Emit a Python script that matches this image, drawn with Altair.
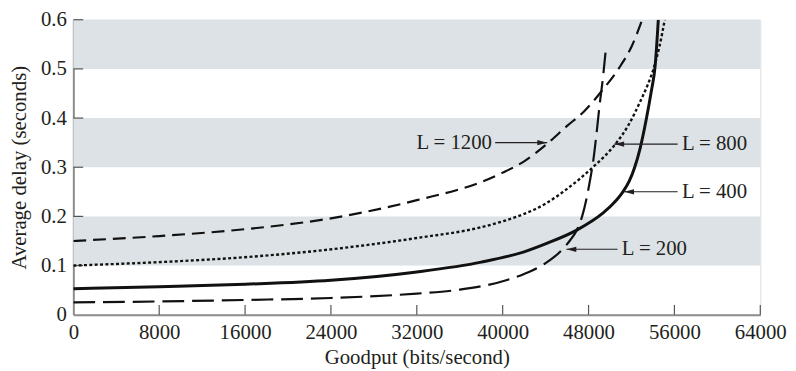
import altair as alt
import pandas as pd

FONT = "Liberation Serif"
FS = 21
INK = "#231f20"
AXIS_GRAY = "#8c8c8c"
BAND = "#dce2e5"

x_ticks = [0, 8000, 16000, 24000, 32000, 40000, 48000, 56000, 64000]
y_ticks = [0, 0.1, 0.2, 0.3, 0.4, 0.5, 0.6]
band_lo = [0.1, 0.3, 0.5]
band_hi = [0.2, 0.4, 0.6]

l200_x = [0, 8000, 16000, 24000, 32000, 36000, 40000, 42000, 44000, 45300, 46300,
          46900, 47400, 47800, 48150, 48450, 48750, 49050, 49330, 49580]
l200_y = [0.025, 0.027, 0.030, 0.034, 0.043, 0.051, 0.068, 0.083, 0.105, 0.127, 0.152,
          0.172, 0.200, 0.235, 0.275, 0.315, 0.370, 0.430, 0.480, 0.533]

l400_x = [0, 8000, 16000, 24000, 32000, 38000, 42000, 44100, 46900, 49300,
          50300, 51200, 51800, 52300, 52800, 53400, 53850, 54200, 54500]
l400_y = [0.053, 0.057, 0.062, 0.070, 0.087, 0.107, 0.128, 0.145, 0.172, 0.206,
          0.226, 0.250, 0.272, 0.300, 0.338, 0.400, 0.455, 0.505, 0.600]

l800_x = [0, 8000, 16000, 24000, 32000, 38000, 40000, 42000, 44000, 46000, 48400,
          50500, 51700, 52800, 53500, 54050, 54600, 55100]
l800_y = [0.100, 0.107, 0.117, 0.133, 0.156, 0.178, 0.190, 0.205, 0.226, 0.256, 0.300,
          0.347, 0.385, 0.433, 0.467, 0.500, 0.545, 0.600]

l1200_x = [0, 8000, 16000, 24000, 32000, 38000, 40000, 42000, 44100, 46000, 47600,
           49300, 51000, 52000, 53000]
l1200_y = [0.150, 0.160, 0.174, 0.196, 0.233, 0.270, 0.289, 0.312, 0.347, 0.384, 0.414,
           0.457, 0.507, 0.545, 0.600]

labels = ["L = 1200", "L = 800", "L = 400", "L = 200"]
label_x = [39000, 56700, 56700, 51100]
label_y = [0.350, 0.347, 0.250, 0.133]
label_align = ["right", "left", "left", "left"]
arrow_tip_x = [44150, 50390, 51310, 45940]
arrow_tail_x = [39300, 56300, 56300, 50700]
arrow_dir = ["right", "left", "left", "left"]

xs = alt.Scale(domain=[0, 64000], nice=False, zero=False)
ys = alt.Scale(domain=[0, 0.6], nice=False, zero=False)

x_axis = alt.Axis(values=x_ticks, format="d", ticks=False, grid=False,
                  domainColor=AXIS_GRAY, domainWidth=2, labelFont=FONT,
                  labelFontSize=FS, labelColor=INK, labelPadding=7,
                  labelFlush=False, title="Goodput (bits/second)",
                  titleFont=FONT, titleFontSize=FS, titleFontWeight="normal",
                  titleColor=INK, titlePadding=4)
y_axis = alt.Axis(values=y_ticks, ticks=False, grid=False,
                  labelExpr="datum.value == 0 ? '0' : format(datum.value, '.1f')",
                  domainColor=AXIS_GRAY, domainWidth=2, labelFont=FONT,
                  labelFontSize=FS, labelColor=INK, labelPadding=7,
                  labelFlush=False, title="Average delay (seconds)",
                  titleFont=FONT, titleFontSize=FS, titleFontWeight="normal",
                  titleColor=INK, titlePadding=11)


def X(f="x"):
    return alt.X(f, type="quantitative", scale=xs, axis=x_axis)


def Y(f="y"):
    return alt.Y(f, type="quantitative", scale=ys, axis=y_axis)


bands = alt.Chart(pd.DataFrame({"x": [0] * 3, "x2": [64000] * 3,
                                "y": band_lo, "y2": band_hi})).mark_rect(
    color=BAND).encode(x=X(), x2="x2", y=Y(), y2="y2")

xt = pd.DataFrame({"x": x_ticks[1:], "y": [0] * 8, "y2": [0.02] * 8})
x_tick_marks = alt.Chart(xt).mark_rule(color="#555", strokeWidth=1.2).encode(
    x=X(), y=Y(), y2="y2")
yt = pd.DataFrame({"y": y_ticks[1:], "x": [0] * 6, "x2": [920] * 6})
y_tick_marks = alt.Chart(yt).mark_rule(color="#555", strokeWidth=1.2).encode(
    y=Y(), x=X(), x2="x2")


def curve(xv, yv, width, dash=None):
    kw = dict(color="#111", strokeWidth=width, interpolate="monotone", clip=True)
    if dash:
        kw["strokeDash"] = dash
    return alt.Chart(pd.DataFrame({"x": xv, "y": yv})).mark_line(**kw).encode(
        x=X(), y=Y())


c200 = curve(l200_x, l200_y, 2.2, [22, 8])
c400 = curve(l400_x, l400_y, 3.0)
c800 = curve(l800_x, l800_y, 2.4, [3, 2.4])
c1200 = curve(l1200_x, l1200_y, 2.2, [13, 7])

ann = pd.DataFrame({"label": labels, "lx": label_x, "y": label_y,
                    "align": label_align, "tip": arrow_tip_x,
                    "tail": arrow_tail_x, "dir": arrow_dir})

arrow_lines = alt.Chart(ann).mark_rule(color=INK, strokeWidth=1.1).encode(
    x=X("tip"), x2="tail", y=Y())

right_head = "M0,0L-1,-0.26L-1,0.26Z"
left_head = "M0,0L1,-0.26L1,0.26Z"
heads_r = alt.Chart(ann).transform_filter("datum.dir == 'right'").mark_point(
    shape=right_head, filled=True, color=INK, size=400, opacity=1).encode(
    x=X("tip"), y=Y())
heads_l = alt.Chart(ann).transform_filter("datum.dir == 'left'").mark_point(
    shape=left_head, filled=True, color=INK, size=400, opacity=1).encode(
    x=X("tip"), y=Y())

text_r = alt.Chart(ann).transform_filter("datum.align == 'right'").mark_text(
    align="right", baseline="middle", font=FONT, fontSize=FS, color=INK).encode(
    x=X("lx"), y=Y(), text="label")
text_l = alt.Chart(ann).transform_filter("datum.align == 'left'").mark_text(
    align="left", baseline="middle", font=FONT, fontSize=FS, color=INK).encode(
    x=X("lx"), y=Y(), text="label")

chart = alt.layer(bands, x_tick_marks, y_tick_marks, c200, c400, c800, c1200,
                  arrow_lines, heads_r, heads_l, text_r, text_l).properties(
    width=694, height=298,
    autosize=alt.AutoSizeParams(type="none"),
    padding={"left": 66, "top": 10, "right": 28, "bottom": 55},
).configure_view(stroke=None).configure(background="white")

chart.save("out.html", embed_options={"renderer": "svg", "actions": False})
